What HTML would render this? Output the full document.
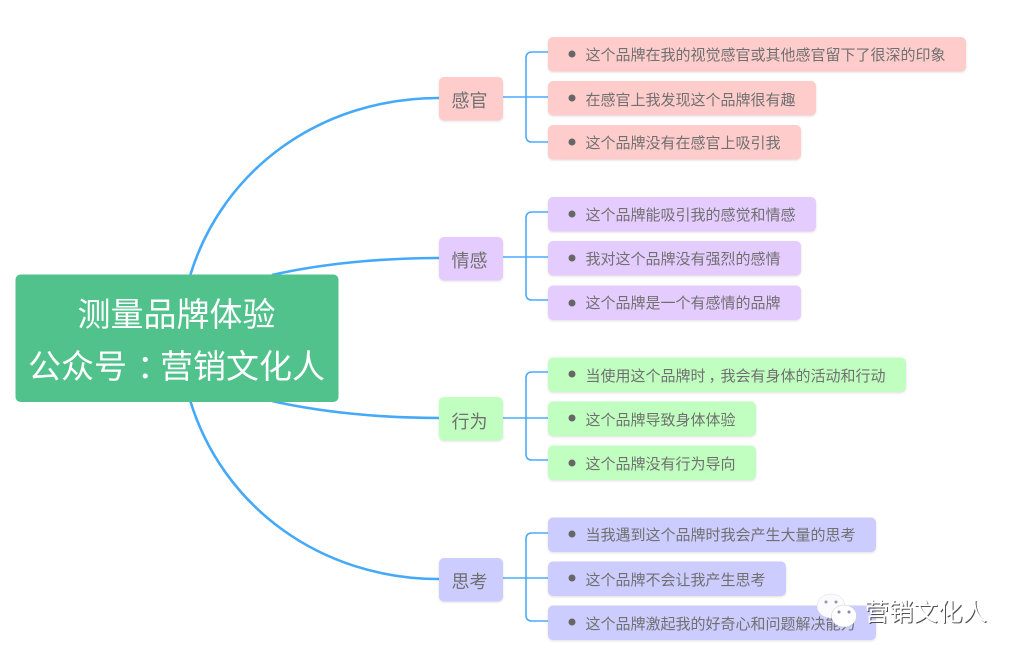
<!DOCTYPE html>
<html lang="zh">
<head>
<meta charset="utf-8">
<title>测量品牌体验</title>
<style>
html,body{margin:0;padding:0;background:#fff;width:1022px;height:658px;overflow:hidden}
svg{display:block}
text{font-family:"Liberation Sans","Noto Sans CJK SC",sans-serif}
.leaf{font-size:15px;fill:#707070}
.br{font-size:18px;fill:#707070;text-anchor:middle}
.root{font-size:33px;fill:#fff;text-anchor:middle}
.ln{fill:none;stroke:#4cacfb;stroke-width:1.6}
.cv{fill:none;stroke:#45a9fa;stroke-width:2.6}
.dot{fill:#666}
.s{filter:drop-shadow(0 1px 1px rgba(0,0,0,.12))}
</style>
</head>
<body>
<svg width="1022" height="658" viewBox="0 0 1022 658" xmlns="http://www.w3.org/2000/svg">
<rect width="1022" height="658" fill="#fff"/>
<!-- main curves -->
<path class="cv" d="M190 276C222 170 320 98 439 98"/>
<path class="cv" d="M272 275C320 264 380 258 439 258"/>
<path class="cv" d="M272 401C320 412 380 418 439 418"/>
<path class="cv" d="M190 400C222 506 320 579 439 579"/>
<!-- brackets -->
<path class="ln" d="M503 97H548M548 52H532Q526 52 526 58V136Q526 142 532 142H548"/>
<path class="ln" d="M503 257H548M548 212H532Q526 212 526 218V294Q526 300 532 300H548"/>
<path class="ln" d="M503 418H548M548 372H532Q526 372 526 378V454Q526 460 532 460H548"/>
<path class="ln" d="M503 578H548M548 533H532Q526 533 526 539V615Q526 621 532 621H548"/>
<!-- root -->
<rect x="15.500" y="274.500" width="323" height="127.500" rx="5" fill="#52c28c"/>
<text class="root" x="176.500" y="326">测量品牌体验</text>
<text class="root" x="176.500" y="378">公众号<tspan dx="10">：</tspan><tspan dx="-10">营销文化人</tspan></text>
<!-- branches -->
<rect class="s" x="439" y="77" width="64" height="43.500" rx="5" fill="#ffcccc"/>
<text class="br" x="469.500" y="107">感官</text>
<rect class="s" x="439" y="237" width="64" height="43.500" rx="5" fill="#e5ccff"/>
<text class="br" x="469.500" y="267">情感</text>
<rect class="s" x="439" y="397" width="64" height="43.500" rx="5" fill="#c0ffc0"/>
<text class="br" x="469.500" y="428">行为</text>
<rect class="s" x="439" y="558" width="64" height="43.500" rx="5" fill="#ccccff"/>
<text class="br" x="469.500" y="588">思考</text>
<!-- leaves -->
<rect class="s" x="548" y="37" width="418" height="34.500" rx="5" fill="#ffcccc"/>
<circle class="dot" cx="572" cy="54" r="3.500"/>
<text class="leaf" x="585.500" y="60">这个品牌在我的视觉感官或其他感官留下了很深的印象</text>
<rect class="s" x="548" y="81" width="268" height="34.500" rx="5" fill="#ffcccc"/>
<circle class="dot" cx="572" cy="98" r="3.500"/>
<text class="leaf" x="585.500" y="105">在感官上我发现这个品牌很有趣</text>
<rect class="s" x="548" y="125" width="253" height="34.500" rx="5" fill="#ffcccc"/>
<circle class="dot" cx="572" cy="142" r="3.500"/>
<text class="leaf" x="585.500" y="148">这个品牌没有在感官上吸引我</text>
<rect class="s" x="548" y="197" width="268" height="34.500" rx="5" fill="#e5ccff"/>
<circle class="dot" cx="572" cy="214" r="3.500"/>
<text class="leaf" x="585.500" y="220">这个品牌能吸引我的感觉和情感</text>
<rect class="s" x="548" y="241" width="253" height="34.500" rx="5" fill="#e5ccff"/>
<circle class="dot" cx="572" cy="258" r="3.500"/>
<text class="leaf" x="585.500" y="264">我对这个品牌没有强烈的感情</text>
<rect class="s" x="548" y="285.500" width="253" height="34.500" rx="5" fill="#e5ccff"/>
<circle class="dot" cx="572" cy="303" r="3.500"/>
<text class="leaf" x="585.500" y="308">这个品牌是一个有感情的品牌</text>
<rect class="s" x="548" y="357.500" width="358" height="34.500" rx="5" fill="#c0ffc0"/>
<circle class="dot" cx="572" cy="374" r="3.500"/>
<text class="leaf" x="585.500" y="381">当使用这个品牌时<tspan dx="3">，</tspan><tspan dx="-3">我会有身体的活动和行动</tspan></text>
<rect class="s" x="548" y="401.500" width="208" height="34.500" rx="5" fill="#c0ffc0"/>
<circle class="dot" cx="572" cy="418" r="3.500"/>
<text class="leaf" x="585.500" y="425">这个品牌导致身体体验</text>
<rect class="s" x="548" y="445.500" width="208" height="34.500" rx="5" fill="#c0ffc0"/>
<circle class="dot" cx="572" cy="463" r="3.500"/>
<text class="leaf" x="585.500" y="469">这个品牌没有行为导向</text>
<rect class="s" x="548" y="517.500" width="328" height="34.500" rx="5" fill="#ccccff"/>
<circle class="dot" cx="572" cy="534" r="3.500"/>
<text class="leaf" x="585.500" y="540">当我遇到这个品牌时我会产生大量的思考</text>
<rect class="s" x="548" y="561.500" width="238" height="34.500" rx="5" fill="#ccccff"/>
<circle class="dot" cx="572" cy="578" r="3.500"/>
<text class="leaf" x="585.500" y="585">这个品牌不会让我产生思考</text>
<rect class="s" x="548" y="605.500" width="328" height="34.500" rx="5" fill="#ccccff"/>
<circle class="dot" cx="572" cy="622" r="3.500"/>
<text class="leaf" x="585.500" y="629">这个品牌激起我的好奇心和问题解决能力</text>
<!-- watermark -->
<ellipse cx="831" cy="606" rx="14" ry="12" fill="#fafaff" stroke="#ddd" stroke-width=".5"/>
<circle cx="826" cy="602" r="1.500" fill="#999"/>
<circle cx="836" cy="602" r="1.500" fill="#999"/>
<ellipse cx="844" cy="616" rx="12.500" ry="11" fill="#fff" stroke="#ccc" stroke-width=".5"/>
<circle cx="839" cy="612" r="1.500" fill="#88a"/>
<circle cx="849" cy="612" r="1.500" fill="#88a"/>
<text x="865.500" y="621.500" font-size="24.500" fill="#333" opacity=".85">营销文化人</text>
<text x="864.500" y="620.500" font-size="24.500" fill="#fff">营销文化人</text>
</svg>
</body>
</html>
